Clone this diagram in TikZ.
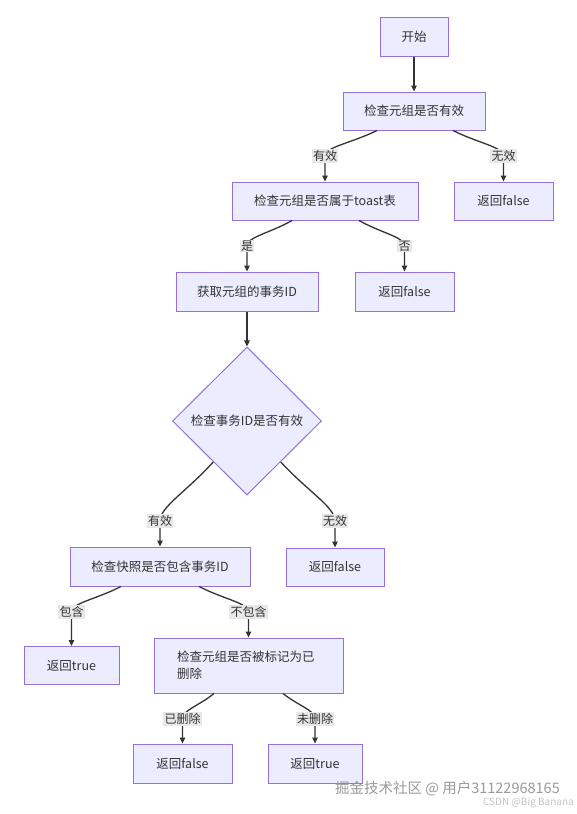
\documentclass[tikz,border=0pt]{standalone}
\usepackage{fontspec}
\setmainfont{Noto Sans CJK SC}
\usetikzlibrary{shapes.geometric,arrows.meta,calc}
\definecolor{nodefill}{HTML}{ECECFF}
\definecolor{nodeline}{HTML}{9370DB}
\definecolor{edgecol}{HTML}{333333}
\definecolor{lblbg}{HTML}{E8E8E8}
\definecolor{txt}{HTML}{333333}
\definecolor{wmone}{HTML}{9A9A9A}
\definecolor{wmtwo}{HTML}{C4C4C4}
\begin{document}
\begin{tikzpicture}[x=1pt,y=-1pt,
  box/.style={draw=nodeline, fill=nodefill, line width=1pt, inner sep=0pt, text=txt, font=\fontsize{12.5}{17}\selectfont},
  dia/.style={box, diamond, minimum width=149pt, minimum height=148pt},
  edge/.style={draw=edgecol, line width=1.3pt, -{Triangle[length=6pt,width=5.5pt]}},
  lbl/.style={fill=lblbg, inner sep=1.2pt, text=txt, font=\fontsize{12}{14}\selectfont},
  wm/.style={anchor=east, inner sep=0pt}]
\fill[white] (0,0) rectangle (577,814);
\useasboundingbox (0,0) rectangle (577,814);

% nodes
\node[box, minimum width=68pt, minimum height=39pt] (start) at (414,36.5) {开始};
\node[box, minimum width=142pt, minimum height=38pt] (chk) at (414,111) {检查元组是否有效};
\node[box, minimum width=186pt, minimum height=38pt] (toast) at (325,201) {检查元组是否属于toast表};
\node[box, minimum width=99pt, minimum height=38pt] (f1) at (503.5,201) {返回false};
\node[box, minimum width=142pt, minimum height=39pt] (xid) at (247,291.5) {获取元组的事务ID};
\node[box, minimum width=99pt, minimum height=39pt] (f2) at (404.5,291.5) {返回false};
\node[dia] (valid) at (247,421) {检查事务ID是否有效};
\node[box, minimum width=180pt, minimum height=39pt] (snap) at (160,566.5) {检查快照是否包含事务ID};
\node[box, minimum width=98pt, minimum height=38pt] (f3) at (335,567) {返回false};
\node[box, minimum width=95pt, minimum height=38pt] (t1) at (71.5,665.5) {返回true};
\node[box, minimum width=189pt, minimum height=55pt, text width=143pt, align=left] (del) at (248.5,665.5) {检查元组是否被标记为已\\删除};
\node[box, minimum width=99pt, minimum height=39pt] (f4) at (182.5,763.5) {返回false};
\node[box, minimum width=94pt, minimum height=39pt] (t2) at (315,763.5) {返回true};

% edge start points and label positions
\coordinate (s1) at ($(chk.south)+(-37,0)$);
\coordinate (s2) at ($(chk.south)+(39,0)$);
\coordinate (s3) at ($(toast.south)+(-33,0)$);
\coordinate (s4) at ($(toast.south)+(34,0)$);
\coordinate (s5) at ($(valid.south)!0.45!(valid.west)$);
\coordinate (s6) at ($(valid.south)!0.45!(valid.east)$);
\coordinate (s7) at ($(snap.south)+(-39,0)$);
\coordinate (s8) at ($(snap.south)+(39,0)$);
\coordinate (s9) at ($(del.south)+(-34.5,0)$);
\coordinate (s10) at ($(del.south)+(34.5,0)$);

\coordinate (l1) at (325,156);
\coordinate (l2) at (503.5,156);
\coordinate (l3) at (247,246);
\coordinate (l4) at (404.5,246);
\coordinate (l5) at (160,521);
\coordinate (l6) at (335,521);
\coordinate (l7) at (71.5,612);
\coordinate (l8) at (248.5,612);
\coordinate (l9) at (182.5,719);
\coordinate (l10) at (315,719);

% edges
\draw[edge] (start) -- (chk);
\draw[edge] (xid) -- (valid);
\draw[edge] (s1) .. controls ($(s1)!0.5!(l1)$) and ($(l1)+(0,-9)$) .. (l1) -- (toast.north);
\draw[edge] (s2) .. controls ($(s2)!0.5!(l2)$) and ($(l2)+(0,-9)$) .. (l2) -- (f1.north);
\draw[edge] (s3) .. controls ($(s3)!0.5!(l3)$) and ($(l3)+(0,-9)$) .. (l3) -- (xid.north);
\draw[edge] (s4) .. controls ($(s4)!0.5!(l4)$) and ($(l4)+(0,-9)$) .. (l4) -- (f2.north);
\draw[edge] (s5) .. controls ($(s5)!0.5!(l5)$) and ($(l5)+(0,-14)$) .. (l5) -- (snap.north);
\draw[edge] (s6) .. controls ($(s6)!0.5!(l6)$) and ($(l6)+(0,-14)$) .. (l6) -- (f3.north);
\draw[edge] (s7) .. controls ($(s7)!0.5!(l7)$) and ($(l7)+(0,-9)$) .. (l7) -- (t1.north);
\draw[edge] (s8) .. controls ($(s8)!0.5!(l8)$) and ($(l8)+(0,-9)$) .. (l8) -- (del.north);
\draw[edge] (s9) .. controls ($(s9)!0.5!(l9)$) and ($(l9)+(0,-9)$) .. (l9) -- (f4.north);
\draw[edge] (s10) .. controls ($(s10)!0.5!(l10)$) and ($(l10)+(0,-9)$) .. (l10) -- (t2.north);

% edge labels
\node[lbl] (n1) at (l1) {有效};
\node[lbl] (n2) at (l2) {无效};
\node[lbl] (n3) at (l3) {是};
\node[lbl] (n4) at (l4) {否};
\node[lbl] (n5) at (l5) {有效};
\node[lbl] (n6) at (l6) {无效};
\node[lbl] (n7) at (l7) {包含};
\node[lbl] (n8) at (l8) {不包含};
\node[lbl] (n9) at (l9) {已删除};
\node[lbl] (n10) at (l10) {未删除};

% watermarks
\node[wm, text=wmone, font=\fontsize{14.5}{16}\selectfont] (wm1) at (560,789) {掘金技术社区 @ 用户31122968165};
\node[wm, text=wmtwo, font=\fontsize{10}{12}\selectfont] (wm2) at (574,803) {CSDN @Big Banana};
\end{tikzpicture}
\end{document}
